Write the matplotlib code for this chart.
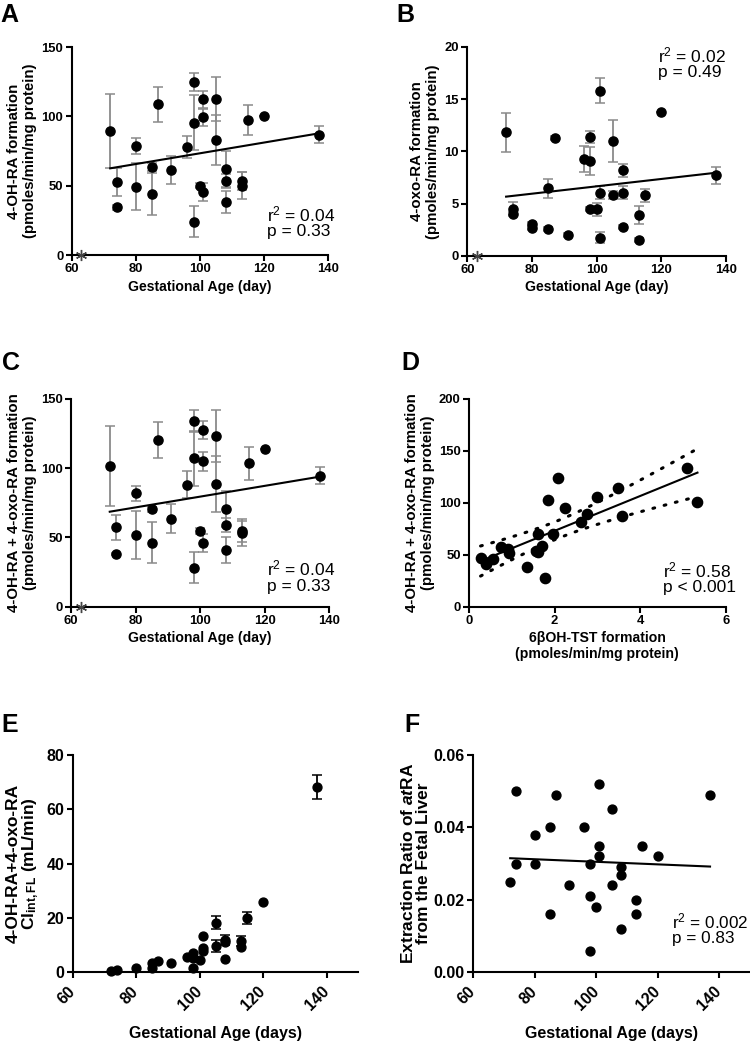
import numpy as np
import matplotlib
matplotlib.use("Agg")
import matplotlib.pyplot as plt
from matplotlib import rcParams

rcParams['font.family'] = ['Liberation Sans', 'DejaVu Sans']
rcParams['mathtext.fontset'] = 'custom'
rcParams['mathtext.rm'] = 'Liberation Sans'
rcParams['mathtext.bf'] = 'Liberation Sans:bold'
rcParams['mathtext.it'] = 'Liberation Sans:bold:italic'

# ---------------- data ----------------
age = [72, 74, 74, 80, 80, 85, 85, 87, 91, 96, 98, 98, 98, 100, 101, 101, 101,
       105, 105, 108, 108, 108, 113, 113, 115, 120, 137]

oh_a = [89.4, 52.9, 34.4, 78.6, 49.3, 63.7, 43.8, 108.7, 61.3, 78.1, 124.5, 95.4, 24.0,
        50.0, 112.3, 99.3, 45.2, 112.5, 82.9, 62.0, 53.1, 38.5, 53.4, 50.0, 97.4, 100.0, 86.8]
oh_err = [27, 10, 2, 6, 17, 3, 15, 12.6, 10, 8, 6.5, 20, 11, 2, 6, 6, 6.6, 16, 18, 13,
          5, 8, 6.7, 9.6, 11, 0, 6.3]

oxo_b = [11.83, 4.53, 4.05, 3.03, 2.71, 2.62, 6.48, 11.32, 1.98, 9.25, 11.39, 9.09, 4.47,
         4.47, 15.82, 6.06, 1.75, 11.04, 5.84, 8.2, 6.06, 2.74, 3.92, 1.56, 5.8, 13.75, 7.72]
oxo_err = [1.9, 0.6, 0.2, 0.2, 0.2, 0.2, 0.9, 0.2, 0.2, 1.25, 0.6, 1.3, 0.2, 0.6, 1.2,
           0.6, 0.5, 2.0, 0.4, 0.6, 0.6, 0.2, 0.9, 0.2, 0.65, 0, 0.8]

sum_c = [101.4, 57.2, 38.0, 81.7, 51.7, 70.2, 46.2, 120.2, 63.5, 88.0, 133.9, 107.0, 28.1,
         54.6, 127.4, 104.8, 45.9, 123.0, 88.5, 70.2, 58.9, 40.9, 54.8, 52.9, 103.4, 113.7, 94.5]
sum_err = [29, 9, 1, 5.5, 17, 2, 14.7, 12.7, 10.5, 9.7, 8, 19.6, 11.2, 2, 6.7, 6.7, 6.5,
           18.8, 20, 13, 5, 9.6, 8.4, 9, 11.8, 0, 6.3]

tst_d = [0.27, 0.39, 0.55, 0.75, 0.92, 0.94, 1.35, 1.61, 1.57, 1.62, 1.70, 1.78, 1.85,
         1.97, 2.07, 2.24, 2.61, 2.76, 2.99, 3.49, 3.57, 5.10, 5.34]
sum_d = [46.5, 41, 46.2, 57.4, 55.4, 51.3, 37.8, 69.6, 53.8, 52.9, 58.3, 27.9, 102.6,
         69.6, 124, 94.6, 81.4, 88.8, 105.8, 114.1, 87.2, 133.7, 101]

age_e = [72, 74, 80, 85, 85, 87, 91, 96, 98, 98, 98, 100, 101, 101, 101, 105, 105,
         108, 108, 108, 113, 113, 115, 120, 137]
cl_e = [0.6, 0.85, 1.5, 3.5, 1.5, 4.2, 3.3, 5.5, 7.2, 5.2, 1.5, 4.5, 13.4, 8.8, 8.0,
        18.3, 9.7, 11.9, 11.0, 4.8, 11.6, 9.4, 19.9, 26.0, 68.3]
cl_err = [0, 0, 0, 0, 0, 0, 0, 0, 0, 0, 0, 0, 0, 0, 0, 2.5, 2.1, 1.8, 0, 0, 1.8, 0, 2.3, 0, 4.5]

er_f = [0.025, 0.050, 0.030, 0.038, 0.030, 0.040, 0.016, 0.049, 0.024, 0.040, 0.030,
        0.021, 0.006, 0.018, 0.052, 0.035, 0.032, 0.045, 0.024, 0.029, 0.027, 0.012,
        0.020, 0.016, 0.035, 0.032, 0.049]

fit_x = [72, 137]
fit_a = [62.5, 87.7]
fit_b = [5.68, 7.97]
fit_c = [68.5, 93.75]
fit_f = [0.0315, 0.0292]

excl_age = 63
excl_val = 0

# ---------------- layout ----------------
W, H = 750, 1042
fig = plt.figure(figsize=(7.5, 10.42), dpi=100)


def rect(l, r, t, b):
    return [l / W, 1 - b / H, (r - l) / W, (b - t) / H]


def style(ax, fs):
    ax.spines[['top', 'right']].set_visible(False)
    for s in ['left', 'bottom']:
        ax.spines[s].set_linewidth(1.5)
    ax.tick_params(width=1.5, length=4, labelsize=fs, direction='out', pad=2)
    for lab in ax.get_xticklabels() + ax.get_yticklabels():
        lab.set_fontweight('bold')


def dots(ax, x, y, err=None, ms=6.6, ecolor='#8a8a8a'):
    if err is not None:
        ax.errorbar(x, y, yerr=err, fmt='none', ecolor=ecolor, elinewidth=1.3,
                    capsize=3.5, capthick=1.1, clip_on=False, zorder=2)
    ax.plot(x, y, 'o', color='black', ms=ms, clip_on=False, zorder=3)


def star(ax):
    ax.plot([excl_age], [excl_val], marker=(6, 2, 0), color='#444444', ms=8,
            mew=1.0, clip_on=False, zorder=4)


XL = dict(fontsize=10.1, fontweight='bold')
YL = dict(fontsize=10.8, fontweight='bold')
ANN = dict(fontsize=12.5)
TICK = 9.4

# ---------- A ----------
axA = fig.add_axes(rect(71.7, 328.3, 47, 255))
dots(axA, age, oh_a, oh_err)
axA.plot(fit_x, fit_a, color='black', lw=1.5, zorder=2.5)
star(axA)
axA.set_xlim(60, 140); axA.set_ylim(0, 150)
axA.set_xticks([60, 80, 100, 120, 140]); axA.set_yticks([0, 50, 100, 150])
style(axA, TICK)
axA.set_xlabel('Gestational Age (day)', labelpad=3, **XL)
axA.set_ylabel('4-OH-RA formation\n(pmoles/min/mg protein)', labelpad=3, **YL)
axA.text(120.8, 23.8, 'r$^2$ = 0.04\np = 0.33', ha='left', va='center', linespacing=1.0, **ANN)

# ---------- B ----------
axB = fig.add_axes(rect(467.3, 726, 47, 256))
dots(axB, age, oxo_b, oxo_err)
axB.plot(fit_x, fit_b, color='black', lw=1.5, zorder=2.5)
star(axB)
axB.set_xlim(60, 140); axB.set_ylim(0, 20)
axB.set_xticks([60, 80, 100, 120, 140]); axB.set_yticks([0, 5, 10, 15, 20])
style(axB, TICK)
axB.set_xlabel('Gestational Age (day)', labelpad=3, **XL)
axB.set_ylabel('4-oxo-RA formation\n(pmoles/min/mg protein)', labelpad=3, **YL)
axB.text(119, 18.5, 'r$^2$ = 0.02\np = 0.49', ha='left', va='center', linespacing=1.0, **ANN)

# ---------- C ----------
axC = fig.add_axes(rect(71, 329.3, 398.7, 606.7))
dots(axC, age, sum_c, sum_err)
axC.plot(fit_x, fit_c, color='black', lw=1.5, zorder=2.5)
star(axC)
axC.set_xlim(60, 140); axC.set_ylim(0, 150)
axC.set_xticks([60, 80, 100, 120, 140]); axC.set_yticks([0, 50, 100, 150])
style(axC, TICK)
axC.set_xlabel('Gestational Age (day)', labelpad=3, **XL)
axC.set_ylabel('4-OH-RA + 4-oxo-RA formation\n(pmoles/min/mg protein)', labelpad=3, **YL)
axC.text(120.8, 22, 'r$^2$ = 0.04\np = 0.33', ha='left', va='center', linespacing=1.0, **ANN)

# ---------- D ----------
axD = fig.add_axes(rect(469, 725.7, 398.7, 606.7))
xd = np.array(tst_d); yd = np.array(sum_d)
slope, icpt = np.polyfit(xd, yd, 1)
n = len(xd)
resid = yd - (slope * xd + icpt)
s = np.sqrt(np.sum(resid ** 2) / (n - 2))
xx = np.linspace(xd.min(), xd.max(), 100)
se = s * np.sqrt(1 / n + (xx - xd.mean()) ** 2 / np.sum((xd - xd.mean()) ** 2))
tval = 2.08
yy = slope * xx + icpt
axD.plot(xx, yy, color='black', lw=1.5, zorder=2)
axD.plot(xx, yy + tval * se, color='black', lw=2.2, ls=(0, (0.6, 3.2)), dash_capstyle='round', zorder=2)
axD.plot(xx, yy - tval * se, color='black', lw=2.2, ls=(0, (0.6, 3.2)), dash_capstyle='round', zorder=2)
dots(axD, tst_d, sum_d, ms=7.4)
axD.set_xlim(0, 6); axD.set_ylim(0, 200)
axD.set_xticks([0, 2, 4, 6]); axD.set_yticks([0, 50, 100, 150, 200])
style(axD, TICK)
axD.set_xlabel('6\u03b2OH-TST formation\n(pmoles/min/mg protein)', labelpad=3, **XL)
axD.set_ylabel('4-OH-RA + 4-oxo-RA formation\n(pmoles/min/mg protein)', labelpad=3, **YL)
axD.text(4.53, 27.6, 'r$^2$ = 0.58\np < 0.001', ha='left', va='center', linespacing=1.0, **ANN)

# ---------- E ----------
axE = fig.add_axes(rect(72.7, 358.3, 755, 972.3))
errE = np.array(cl_err)
dots(axE, age_e, cl_e, np.where(errE > 0, errE, np.nan), ms=6.4, ecolor='black')
axE.set_xlim(60, 150); axE.set_ylim(0, 80)
axE.set_xticks([60, 80, 100, 120, 140]); axE.set_yticks([0, 20, 40, 60, 80])
style(axE, 11.5)
for lab in axE.get_xticklabels():
    lab.set_rotation(45); lab.set_ha('right'); lab.set_va('center'); lab.set_rotation_mode('anchor')
axE.tick_params(axis='x', pad=8)
axE.set_xlabel('Gestational Age (days)', labelpad=9, fontsize=11.5, fontweight='bold')
axE.set_ylabel('4-OH-RA+4-oxo-RA\nCl$_{\\mathbf{int,FL}}$ (mL/min)', labelpad=4,
               fontsize=12.5, fontweight='bold', linespacing=1.0)

# ---------- F ----------
axF = fig.add_axes(rect(473.3, 750, 755, 972.3))
dots(axF, age, er_f, ms=6.4)
axF.plot(fit_x, fit_f, color='black', lw=1.5, zorder=2.5)
axF.set_xlim(60, 150); axF.set_ylim(0, 0.06)
axF.set_xticks([60, 80, 100, 120, 140]); axF.set_yticks([0, 0.02, 0.04, 0.06])
axF.set_yticklabels(['0.00', '0.02', '0.04', '0.06'])
style(axF, 11.5)
for lab in axF.get_xticklabels():
    lab.set_rotation(45); lab.set_ha('right'); lab.set_va('center'); lab.set_rotation_mode('anchor')
axF.tick_params(axis='x', pad=8)
axF.set_xlabel('Gestational Age (days)', labelpad=9, fontsize=11.5, fontweight='bold')
axF.set_ylabel('Extraction Ratio of $\\mathit{at}$RA\nfrom the Fetal Liver', labelpad=2,
               fontsize=12.5, fontweight='bold', linespacing=1.0)
axF.text(124.7, 0.0120, 'r$^2$ = 0.002\np = 0.83', ha='left', va='center', linespacing=1.0,
         fontsize=12.3)

# ---------- panel letters ----------
for letter, x, y in [('A', 0, 3), ('B', 396, 3), ('C', 2, 351), ('D', 401, 351),
                     ('E', 1, 713), ('F', 404, 713)]:
    fig.text(x / W, 1 - y / H, letter, fontsize=18, fontweight='bold', ha='left', va='top')

fig.savefig('out.png', dpi=100)
